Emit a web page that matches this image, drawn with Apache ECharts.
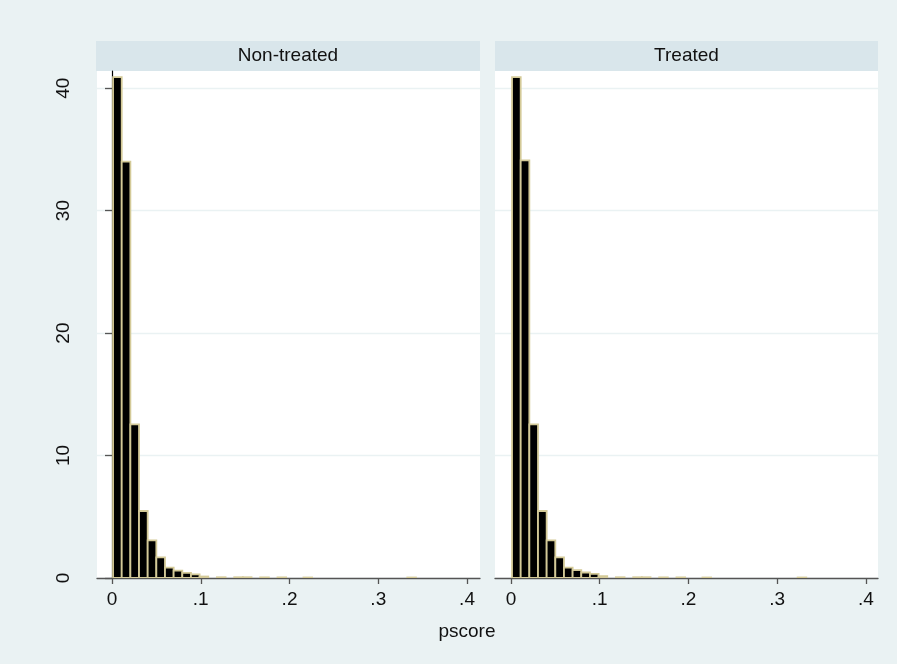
<!DOCTYPE html>
<html>
<head>
<meta charset="utf-8">
<script src="https://cdn.jsdelivr.net/npm/echarts@6/dist/echarts.min.js"></script>
<style>html,body{margin:0;padding:0;background:#EAF2F3;}#c{width:897px;height:664px;}</style>
</head>
<body>
<div id="c"></div>
<script>
// ---- data ----
const panelTitles = ['Non-treated', 'Treated'];
const binStart = 0.0012;
const binWidth = 0.00975;
const nonTreated = [40.9, 34.0, 12.55, 5.47, 3.07, 1.68, 0.85, 0.6, 0.42, 0.3, 0.12, 0, 0.06, 0, 0.06, 0.06, 0, 0.05, 0, 0.05, 0, 0, 0.04, 0, 0, 0, 0, 0, 0, 0, 0, 0, 0, 0, 0.04];
const treated    = [40.9, 34.1, 12.55, 5.47, 3.07, 1.68, 0.85, 0.64, 0.45, 0.34, 0.15, 0, 0.06, 0, 0.06, 0.06, 0, 0.05, 0, 0.05, 0, 0, 0.04, 0, 0, 0, 0, 0, 0, 0, 0, 0, 0, 0.04];
const xTicks = [0, 0.1, 0.2, 0.3, 0.4];
const yTicks = [0, 10, 20, 30, 40];
const xTitle = 'pscore';

// ---- build ----
function bins(arr) {
  const out = [];
  arr.forEach((v, i) => { if (v > 0) out.push([binStart + i * binWidth, binStart + (i + 1) * binWidth, v]); });
  return out;
}
const FONT = 'Liberation Sans, Arial, sans-serif';
const bg = '#EAF2F3';
const chart = echarts.init(document.getElementById('c'), null, {renderer: 'canvas'});

const grids = [
  {left: 97, right: 897 - 480, top: 71, bottom: 664 - 578},
  {left: 495, right: 897 - 878, top: 71, bottom: 664 - 578}
];
function fmtX(v) { return v === 0 ? '0' : String(+v.toFixed(1)).replace(/^0/, ''); }

const xAxes = [0, 1].map(i => ({
  type: 'value', gridIndex: i,
  min: i === 0 ? -0.0169 : -0.018, max: i === 0 ? 0.4146 : 0.4135,
  axisLine: {show: true, onZero: false, lineStyle: {color: '#555', width: 1.3}},
  axisTick: {show: true, length: 6, customValues: xTicks, lineStyle: {color: '#555', width: 1.3}},
  axisLabel: {customValues: xTicks, formatter: fmtX, color: '#111', fontSize: 19, fontFamily: FONT, margin: 12},
  splitLine: {show: false}
}));
const yAxes = [0, 1].map(i => ({
  type: 'value', gridIndex: i, min: 0, max: 41.4,
  axisLine: {show: i === 0, lineStyle: {color: '#000', width: 1.2}},
  axisTick: {show: i === 0, length: 7, customValues: yTicks, lineStyle: {color: '#555', width: 1.3}},
  axisLabel: {show: i === 0, customValues: yTicks, rotate: 90, color: '#111', fontSize: 19, fontFamily: FONT, margin: 24},
  splitLine: {show: true, lineStyle: {color: bg, width: 1.3}}
}));

function renderItem(params, api) {
  const p0 = api.coord([api.value(0), api.value(2)]);
  const p1 = api.coord([api.value(1), 0]);
  return {
    type: 'rect',
    shape: {x: p0[0], y: p0[1], width: p1[0] - p0[0], height: p1[1] - p0[1]},
    style: {fill: '#000', stroke: '#d4ca98', lineWidth: 1.8}
  };
}

const headerGraphics = [];
[[96, 480], [495, 878]].forEach((r, i) => {
  headerGraphics.push({type: 'rect', shape: {x: r[0], y: 41, width: r[1] - r[0], height: 30}, style: {fill: '#D9E6EB'}, silent: true});
  headerGraphics.push({type: 'text', x: (r[0] + r[1]) / 2, y: 56, style: {text: panelTitles[i], fill: '#111', font: '19px ' + FONT, textAlign: 'center', textVerticalAlign: 'middle'}, silent: true});
});
headerGraphics.push({type: 'text', x: 467, y: 632, style: {text: xTitle, fill: '#111', font: '19px ' + FONT, textAlign: 'center', textVerticalAlign: 'middle'}, silent: true});

chart.setOption({
  backgroundColor: bg,
  animation: false,
  grid: grids.map(g => Object.assign({show: true, backgroundColor: '#fff', borderWidth: 0}, g)),
  xAxis: xAxes,
  yAxis: yAxes,
  series: [
    {type: 'custom', xAxisIndex: 0, yAxisIndex: 0, renderItem, encode: {x: [0, 1], y: 2}, data: bins(nonTreated), clip: true},
    {type: 'custom', xAxisIndex: 1, yAxisIndex: 1, renderItem, encode: {x: [0, 1], y: 2}, data: bins(treated), clip: true}
  ],
  graphic: headerGraphics
});
</script>
</body>
</html>
